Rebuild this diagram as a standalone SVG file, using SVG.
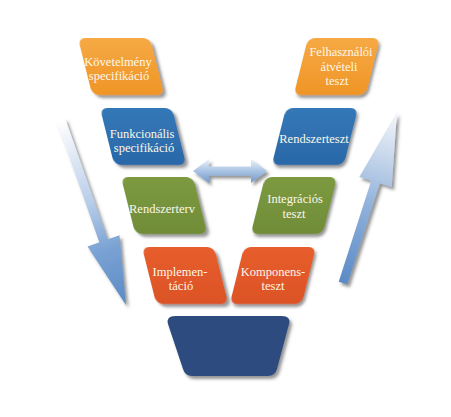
<svg xmlns="http://www.w3.org/2000/svg" width="451" height="417" viewBox="0 0 451 417">
  <defs>
    <filter id="shadow" x="-20%" y="-20%" width="150%" height="150%">
      <feDropShadow dx="2.5" dy="3" stdDeviation="1.6" flood-color="#404040" flood-opacity="0.55"/>
    </filter>
    <linearGradient id="gOrange" x1="0" y1="0" x2="0" y2="1">
      <stop offset="0" stop-color="#F6A944"/>
      <stop offset="1" stop-color="#EF9526"/>
    </linearGradient>
    <linearGradient id="gBlue" x1="0" y1="0" x2="0" y2="1">
      <stop offset="0" stop-color="#3478B8"/>
      <stop offset="1" stop-color="#2A68A8"/>
    </linearGradient>
    <linearGradient id="gGreen" x1="0" y1="0" x2="0" y2="1">
      <stop offset="0" stop-color="#7C9A40"/>
      <stop offset="1" stop-color="#708C38"/>
    </linearGradient>
    <linearGradient id="gRed" x1="0" y1="0" x2="0" y2="1">
      <stop offset="0" stop-color="#E75E2D"/>
      <stop offset="1" stop-color="#DC5326"/>
    </linearGradient>
    <linearGradient id="gDown" gradientUnits="userSpaceOnUse" x1="61" y1="120" x2="126" y2="305">
      <stop offset="0" stop-color="#FFFFFF"/>
      <stop offset="0.45" stop-color="#B7CDE8"/>
      <stop offset="0.7" stop-color="#7AA2D3"/>
      <stop offset="1" stop-color="#5A8AC6"/>
    </linearGradient>
    <linearGradient id="gUp" gradientUnits="userSpaceOnUse" x1="343" y1="283" x2="397" y2="112">
      <stop offset="0" stop-color="#5A8AC6"/>
      <stop offset="0.45" stop-color="#8FB0DA"/>
      <stop offset="0.75" stop-color="#C9D8EC"/>
      <stop offset="1" stop-color="#F4F7FB"/>
    </linearGradient>
    <linearGradient id="gBoth" x1="0" y1="0" x2="0" y2="1">
      <stop offset="0" stop-color="#EEF3F9"/>
      <stop offset="0.5" stop-color="#A9C3E3"/>
      <stop offset="1" stop-color="#7099CD"/>
    </linearGradient>
    <rect id="card" x="0" y="0" width="72" height="57" rx="7" ry="7"/>
  </defs>
  <style>
    .lbl { font-size: 12.5px; fill: #FDF7E8; text-anchor: middle; }
    .arrow { filter: url(#shadow); }
  </style>

  <rect width="451" height="417" fill="#FFFFFF"/>

  <!-- arrows -->
  <g id="connectors">
    <polygon class="arrow" fill="url(#gDown)" points="56.8,121.5 65.2,118.5 107.7,239.3 119.5,235.2 126,305 87.5,246.4 99.3,242.3"/>
    <polygon class="arrow" fill="url(#gUp)" points="338.7,281.7 347.3,284.3 379.8,183.3 391.7,187 397,112 359.3,177 371.2,180.7"/>
    <polygon class="arrow" fill="url(#gBoth)" points="193,171 209,159 209,166.5 251,166.5 251,159 267,171 251,183 251,175.5 209,175.5 209,183"/>
  </g>

  <g font-family="Liberation Serif, Times New Roman, serif">
  <!-- left branch -->
  <g id="kovetelmeny">
    <use href="#card" fill="url(#gOrange)" filter="url(#shadow)" transform="translate(78,38) skewX(14.04)"/>
    <text class="lbl" x="118" y="66">Követelmény</text>
    <text class="lbl" x="119" y="80">specifikáció</text>
  </g>
  <g id="funkcionalis">
    <use href="#card" fill="url(#gBlue)" filter="url(#shadow)" transform="translate(100,108) skewX(14.04)"/>
    <text class="lbl" x="142" y="138">Funkcionális</text>
    <text class="lbl" x="144" y="152">specifikáció</text>
  </g>
  <g id="rendszerterv">
    <use href="#card" fill="url(#gGreen)" filter="url(#shadow)" transform="translate(121,177) skewX(14.04)"/>
    <text class="lbl" x="162" y="212.5">Rendszerterv</text>
  </g>
  <g id="implementacio">
    <use href="#card" fill="url(#gRed)" filter="url(#shadow)" transform="translate(142,247) skewX(14.04)"/>
    <text class="lbl" x="180" y="276">Implemen-</text>
    <text class="lbl" x="181" y="290">táció</text>
  </g>

  <!-- base -->
  <g id="alap">
    <path fill="#2F4C7F" filter="url(#shadow)" d="M175,316 L282,316 Q291,316 289,324 L277,369 Q275,376 268,376 L192,376 Q185,376 183,369 L168,324 Q166,316 175,316 Z"/>
  </g>

  <!-- right branch -->
  <g id="komponensteszt">
    <use href="#card" fill="url(#gRed)" filter="url(#shadow)" transform="translate(244,247) skewX(-14.04)"/>
    <text class="lbl" x="273" y="276">Komponens-</text>
    <text class="lbl" x="273" y="290">teszt</text>
  </g>
  <g id="integracios">
    <use href="#card" fill="url(#gGreen)" filter="url(#shadow)" transform="translate(265,177) skewX(-14.04)"/>
    <text class="lbl" x="295" y="202.5">Integrációs</text>
    <text class="lbl" x="294" y="217.5">teszt</text>
  </g>
  <g id="rendszerteszt">
    <use href="#card" fill="url(#gBlue)" filter="url(#shadow)" transform="translate(286,108) skewX(-14.04)"/>
    <text class="lbl" x="314" y="142.5">Rendszerteszt</text>
  </g>
  <g id="felhasznaloi">
    <use href="#card" fill="url(#gOrange)" filter="url(#shadow)" transform="translate(308,38) skewX(-14.04)"/>
    <text class="lbl" x="341" y="56">Felhasználói</text>
    <text class="lbl" x="339" y="71">átvételi</text>
    <text class="lbl" x="337" y="85">teszt</text>
  </g>
  </g>
</svg>
